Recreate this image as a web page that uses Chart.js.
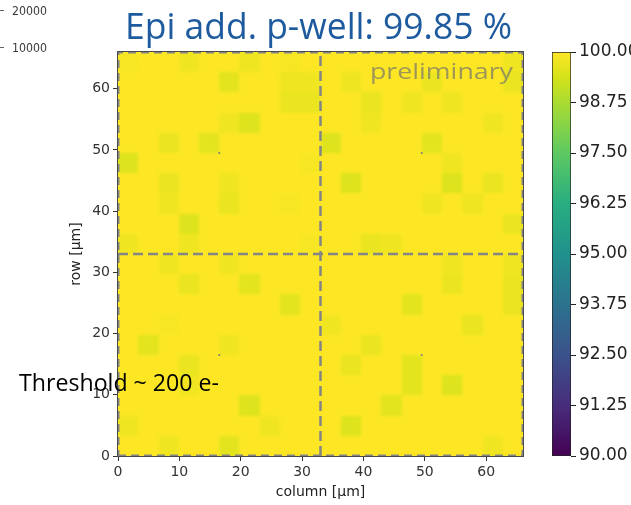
<!DOCTYPE html>
<html>
<head>
<meta charset="utf-8">
<script src="https://cdn.jsdelivr.net/npm/chart.js@4.4.1/dist/chart.umd.min.js"></script>
<style>
  html, body { margin: 0; padding: 0; background: #fff; }
  #wrap { position: relative; width: 631px; height: 505px; }
  #main { position: absolute; left: 0; top: 0; }
  #cbar { position: absolute; left: 540px; top: 0; }
</style>
</head>
<body>
<div id="wrap">
  <canvas id="main" width="631" height="505"></canvas>
  <canvas id="cbar" width="91" height="505"></canvas>
</div>
<script>
// ---- data ----
const cellSize = 3.3;          // µm per pixel cell (20 x 20 cells)
const sensorSize = 66;
const midLine = 33;
const colTicks = [0, 10, 20, 30, 40, 50, 60];
const rowTicks = [0, 10, 20, 30, 40, 50, 60];
const cbTicks = [90, 91.25, 92.5, 93.75, 95, 96.25, 97.5, 98.75, 100];
const cbMin = 90, cbMax = 100;
const centerMarks = [[16.5, 49.5], [49.5, 49.5], [16.5, 16.5], [49.5, 16.5]];

// efficiency [%] per cell, first row = top of the matrix
const efficiency = [
  [99.9,100,100,99.8,100,100,99.8,100,99.9,100, 100,100,100,100,100,100,100,100,100,99.8],
  [100,100,100,100,100,99.6,100,100,99.8,99.8, 100,99.8,100,100,100,99.7,100,100,100,99.7],
  [100,100,100,100,100,100,100,100,99.7,99.7, 100,100,99.7,100,99.8,100,99.8,100,100,100],
  [100,100,100,100,100,99.8,99.5,100,100,100, 100,100,99.8,100,100,100,100,100,99.8,100],
  [100,100,99.7,100,99.6,100,100,100,100,100, 99.5,100,100,100,100,99.6,100,100,100,100],
  [99.5,100,100,100,100,100,100,100,100,99.9, 100,100,100,100,100,100,99.8,100,100,100],
  [100,100,99.7,100,100,99.8,100,100,100,100, 100,99.5,100,100,100,100,99.5,100,99.7,100],
  [100,100,99.8,100,100,99.7,100,100,99.9,100, 100,100,100,100,100,99.8,100,99.8,100,100],
  [100,100,100,99.5,100,100,100,100,100,100, 100,100,100,100,100,100,100,100,100,99.7],
  [99.8,100,100,99.8,100,100,100,100,100,99.9, 100,100,99.7,99.8,100,100,100,100,100,100],
  [100,100,99.8,100,100,99.8,100,100,100,100, 100,100,100,100,100,100,99.8,100,100,99.8],
  [100,100,100,99.7,100,100,99.6,100,100,100, 100,100,100,100,100,100,99.7,100,100,99.7],
  [100,100,100,100,100,100,100,100,99.6,100, 100,100,100,100,99.6,100,100,100,100,99.7],
  [100,100,99.9,100,100,100,100,100,100,100, 99.8,100,100,100,100,100,100,99.7,100,100],
  [100,99.6,100,100,100,99.8,100,100,100,100, 100,100,99.7,100,100,100,100,100,100,100],
  [100,100,100,99.7,100,100,100,100,100,100, 100,99.7,100,100,99.6,100,100,100,100,100],
  [100,100,100,99.8,100,100,100,100,100,100, 100,100,100,100,99.6,100,99.5,100,100,100],
  [100,100,100,100,100,100,99.5,100,100,100, 100,100,100,99.6,100,100,100,100,100,100],
  [99.8,100,100,100,100,100,100,99.8,100,100, 100,99.5,100,100,100,100,100,100,100,100],
  [100,100,99.8,100,100,99.6,100,100,100,100, 100,100,100,100,100,100,100,100,99.8,100]
];

// viridis colour map
const viridis = [
  [0.0, [68, 1, 84]], [0.125, [71, 45, 123]], [0.25, [59, 82, 139]],
  [0.375, [44, 114, 142]], [0.5, [33, 145, 140]], [0.625, [40, 174, 128]],
  [0.75, [94, 201, 98]], [0.875, [170, 220, 50]], [0.9375, [213, 226, 26]],
  [1.0, [253, 231, 37]]
];

function viridisColor(v) {
  let t = Math.min(1, Math.max(0, (v - cbMin) / (cbMax - cbMin)));
  for (let i = 1; i < viridis.length; i++) {
    if (t <= viridis[i][0]) {
      const [t0, c0] = viridis[i - 1];
      const [t1, c1] = viridis[i];
      const f = (t - t0) / (t1 - t0);
      const c = c0.map((a, k) => Math.round(a + (c1[k] - a) * f));
      return 'rgb(' + c.join(',') + ')';
    }
  }
  return 'rgb(253,231,37)';
}

Chart.defaults.font.family = 'DejaVu Sans';

// draw text stretched/squeezed to a target width
function fittedText(ctx, text, x, y, w, font, color) {
  ctx.save();
  ctx.font = font;
  ctx.fillStyle = color;
  ctx.textAlign = 'left';
  ctx.textBaseline = 'alphabetic';
  const m = ctx.measureText(text).width;
  ctx.translate(x, y);
  ctx.scale(w / m, 1);
  ctx.fillText(text, 0, 0);
  ctx.restore();
}

// simple separable box blur on an ImageData (soft cell edges like the source)
function boxBlur(img, r) {
  const {width: w, height: h, data} = img;
  const tmp = new Float32Array(data.length);
  for (let y = 0; y < h; y++) {
    for (let x = 0; x < w; x++) {
      for (let ch = 0; ch < 4; ch++) {
        let s = 0, n = 0;
        for (let d = -r; d <= r; d++) {
          const xx = Math.min(w - 1, Math.max(0, x + d));
          s += data[(y * w + xx) * 4 + ch]; n++;
        }
        tmp[(y * w + x) * 4 + ch] = s / n;
      }
    }
  }
  for (let y = 0; y < h; y++) {
    for (let x = 0; x < w; x++) {
      for (let ch = 0; ch < 4; ch++) {
        let s = 0, n = 0;
        for (let d = -r; d <= r; d++) {
          const yy = Math.min(h - 1, Math.max(0, y + d));
          s += tmp[(yy * w + x) * 4 + ch]; n++;
        }
        data[(y * w + x) * 4 + ch] = Math.round(s / n);
      }
    }
  }
  return img;
}

const heatmap = {
  id: 'heatmap',
  beforeDatasetsDraw(chart) {
    const {ctx, chartArea: a, scales: {x, y}} = chart;
    const left = Math.round(a.left), top = Math.round(a.top);
    const w = Math.round(a.right) - left, h = Math.round(a.bottom) - top;
    const off = document.createElement('canvas');
    off.width = w;
    off.height = h;
    const o = off.getContext('2d');
    const n = efficiency.length;
    efficiency.forEach((row, ri) => {
      const r = n - 1 - ri;
      row.forEach((v, c) => {
        const x0 = Math.round(x.getPixelForValue(c * cellSize)) - left;
        const x1 = Math.round(x.getPixelForValue((c + 1) * cellSize)) - left;
        const y0 = Math.round(y.getPixelForValue((r + 1) * cellSize)) - top;
        const y1 = Math.round(y.getPixelForValue(r * cellSize)) - top;
        o.fillStyle = viridisColor(v);
        o.fillRect(x0, y0, x1 - x0, y1 - y0);
      });
    });
    o.putImageData(boxBlur(o.getImageData(0, 0, w, h), 2), 0, 0);
    ctx.drawImage(off, left, top);
  },
  afterDraw(chart) {
    const {ctx, chartArea: a} = chart;
    // axes frame
    ctx.save();
    ctx.strokeStyle = '#4a4a4a';
    ctx.lineWidth = 1;
    ctx.strokeRect(a.left - 0.5, a.top - 0.5, a.right - a.left + 1, a.bottom - a.top + 1);
    ctx.restore();

    fittedText(ctx, 'Epi add. p-well: 99.85 %', 125, 39, 387, '37px "Open Sans"', '#1d5a9e');
    fittedText(ctx, 'preliminary', 370, 79, 143, '22px "Open Sans"', 'rgba(112,112,112,0.68)');
    fittedText(ctx, 'Threshold ~ 200 e-', 19, 391, 200, '24px "Open Sans"', '#000');

    // leftover axis labels of a neighbouring plot
    fittedText(ctx, '20000', 12, 15, 35, '13px "DejaVu Sans"', '#3a3a3a');
    fittedText(ctx, '10000', 12, 52, 35, '13px "DejaVu Sans"', '#3a3a3a');
    ctx.save();
    ctx.strokeStyle = '#666';
    ctx.beginPath();
    ctx.moveTo(0, 10.5); ctx.lineTo(4, 10.5);
    ctx.moveTo(0, 47.5); ctx.lineTo(4, 47.5);
    ctx.stroke();
    ctx.restore();
  }
};

const dashLine = (pts, w, dash) => ({
  data: pts.map(p => ({x: p[0], y: p[1]})),
  showLine: true,
  borderColor: '#858585',
  borderWidth: w,
  borderDash: dash,
  pointRadius: 0,
  clip: 0
});

new Chart(document.getElementById('main'), {
  type: 'scatter',
  data: {
    datasets: [
      dashLine([[0, 0], [sensorSize, 0], [sensorSize, sensorSize], [0, sensorSize], [0, 0]], 3, [8, 5]),
      dashLine([[midLine, 0], [midLine, sensorSize]], 2.5, [10, 5]),
      dashLine([[0, midLine], [sensorSize, midLine]], 2.5, [10, 5]),
      {
        data: centerMarks.map(p => ({x: p[0], y: p[1]})),
        pointRadius: 1,
        pointBackgroundColor: '#7a7a7a',
        pointBorderWidth: 0
      }
    ]
  },
  options: {
    responsive: false,
    animation: false,
    events: [],
    layout: {padding: {left: 64, top: 52, right: 108, bottom: 0}},
    plugins: {legend: {display: false}, tooltip: {enabled: false}},
    scales: {
      x: {
        type: 'linear', min: 0, max: sensorSize,
        afterBuildTicks: s => { s.ticks = colTicks.map(v => ({value: v})); },
        afterFit: s => { s.height = 49; },
        ticks: {autoSkip: false, maxRotation: 0, font: {size: 14}, color: '#333', padding: 3},
        grid: {drawOnChartArea: false, tickLength: 5, color: '#333'},
        border: {display: false},
        title: {display: true, text: 'column [µm]', font: {size: 14}, color: '#222'}
      },
      y: {
        type: 'linear', min: 0, max: sensorSize,
        afterBuildTicks: s => { s.ticks = rowTicks.map(v => ({value: v})); },
        afterFit: s => { s.width = 54; },
        ticks: {autoSkip: false, font: {size: 14}, color: '#333', padding: 3},
        grid: {drawOnChartArea: false, tickLength: 5, color: '#333'},
        border: {display: false},
        title: {display: true, text: 'row [µm]', font: {size: 14}, color: '#222'}
      }
    }
  },
  plugins: [heatmap]
});

// ---- colour bar ----
new Chart(document.getElementById('cbar'), {
  type: 'bar',
  data: {
    labels: [''],
    datasets: [{
      data: [[cbMin, cbMax]],
      backgroundColor: (c) => {
        const a = c.chart.chartArea;
        if (!a) return '#fde725';
        const g = c.chart.ctx.createLinearGradient(0, a.bottom, 0, a.top);
        viridis.forEach(([t, col]) => g.addColorStop(t, 'rgb(' + col.join(',') + ')'));
        return g;
      },
      borderColor: '#222',
      borderWidth: 1,
      borderSkipped: false,
      barPercentage: 1,
      categoryPercentage: 1
    }]
  },
  options: {
    responsive: false,
    animation: false,
    events: [],
    layout: {padding: {left: 12, top: 52, right: 0, bottom: 49}},
    plugins: {legend: {display: false}, tooltip: {enabled: false}},
    scales: {
      x: {display: false},
      y: {
        position: 'right', min: cbMin, max: cbMax,
        afterBuildTicks: s => { s.ticks = cbTicks.map(v => ({value: v})); },
        afterFit: s => { s.width = 60; },
        ticks: {autoSkip: false, callback: v => v.toFixed(2), font: {size: 17}, color: '#222', padding: 3},
        grid: {drawOnChartArea: false, tickLength: 5, color: '#222'},
        border: {display: false}
      }
    }
  }
});
</script>
</body>
</html>
